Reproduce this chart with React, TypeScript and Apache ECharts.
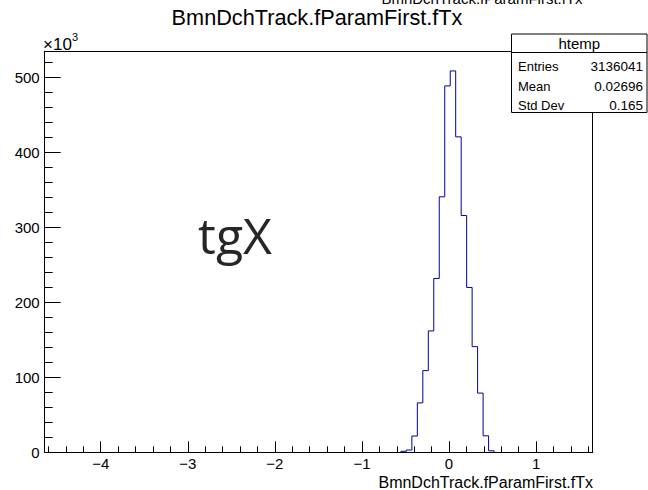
import React, { useEffect, useRef } from "react";
import * as echarts from "echarts";

// Histogram definition (ROOT-style, 100 bins)
const xMin = -4.643;
const xMax = 1.65;
const nBins = 100;
const firstBin = 65;
// bin contents in thousands (×10^3), bins 65..81
const binCounts = [1.3, 3, 21.7, 66, 109, 162, 232, 341, 489, 509, 421, 316, 220, 141, 79, 22, 2];

const yMax = 535.2;
const xMajorTicks = [-4, -3, -2, -1, 0, 1];
const yMajorTicks = [0, 100, 200, 300, 400, 500];

const histTitle = "BmnDchTrack.fParamFirst.fTx";
const xTitle = "BmnDchTrack.fParamFirst.fTx";
const statsName = "htemp";
const statsLabels = ["Entries", "Mean", "Std Dev"];
const statsValues = ["3136041", "0.02696", "0.165"];
const annotation = "tgX";

const FONT = "'Liberation Sans', Arial, Helvetica, sans-serif";

export default function App() {
  const ref = useRef<HTMLDivElement>(null);
  useEffect(() => {
    if (!ref.current) return;
    const chart = echarts.init(ref.current, undefined, { renderer: "svg" });
    const bw = (xMax - xMin) / nBins;
    const edge = (k: number) => xMin + k * bw;
    const pts: number[][] = [[edge(firstBin), 0]];
    binCounts.forEach((c, i) => pts.push([edge(firstBin + i), c]));
    pts.push([edge(firstBin + binCounts.length), 0]);

    const xMinor: number[] = [];
    for (let v = -4.6; v <= 1.61; v += 0.2) xMinor.push(Math.round(v * 10) / 10);
    const yMinor: number[] = [];
    for (let v = 0; v <= 520; v += 20) yMinor.push(v);

    const fmtX = (v: number) => (v < 0 ? "\u2212" + Math.abs(v) : String(v));

    const statsX = 511.5, statsY = 34, statsW = 135.5, statsH = 78.5, headerH = 18.5;
    const rowYs = [66, 86, 105];

    chart.setOption({
      animation: false,
      textStyle: { fontFamily: FONT },
      grid: { left: 44.7, right: 55.3, top: 51.3, bottom: 37.7, outerBoundsMode: "none" },
      xAxis: [
        {
          type: "value", min: xMin, max: xMax, position: "bottom",
          axisLine: { show: true, onZero: false, lineStyle: { color: "#000", width: 1 } },
          axisTick: { show: true, inside: true, length: 11, customValues: xMajorTicks, lineStyle: { color: "#000" } },
          axisLabel: { show: true, customValues: xMajorTicks, formatter: fmtX, color: "#000", fontSize: 15, margin: 4, fontFamily: FONT },
          splitLine: { show: false },
        },
        {
          type: "value", min: xMin, max: xMax, position: "bottom",
          axisLine: { show: false, onZero: false },
          axisTick: { show: true, inside: true, length: 6, customValues: xMinor, lineStyle: { color: "#000" } },
          axisLabel: { show: false },
          splitLine: { show: false },
        },
        {
          type: "value", min: xMin, max: xMax, position: "top",
          axisLine: { show: true, onZero: false, lineStyle: { color: "#000", width: 1 } },
          axisTick: { show: false }, axisLabel: { show: false }, splitLine: { show: false },
        },
      ],
      yAxis: [
        {
          type: "value", min: 0, max: yMax, position: "left",
          axisLine: { show: true, onZero: false, lineStyle: { color: "#000", width: 1 } },
          axisTick: { show: true, inside: true, length: 16, customValues: yMajorTicks, lineStyle: { color: "#000" } },
          axisLabel: { show: true, customValues: yMajorTicks, color: "#000", fontSize: 15, margin: 5, fontFamily: FONT },
          splitLine: { show: false },
        },
        {
          type: "value", min: 0, max: yMax, position: "left",
          axisLine: { show: false, onZero: false },
          axisTick: { show: true, inside: true, length: 8, customValues: yMinor, lineStyle: { color: "#000" } },
          axisLabel: { show: false }, splitLine: { show: false },
        },
        {
          type: "value", min: 0, max: yMax, position: "right",
          axisLine: { show: true, onZero: false, lineStyle: { color: "#000", width: 1 } },
          axisTick: { show: false }, axisLabel: { show: false }, splitLine: { show: false },
        },
      ],
      series: [
        {
          type: "line", xAxisIndex: 0, yAxisIndex: 0, data: pts, step: "end",
          symbol: "none", lineStyle: { color: "#000099", width: 1 }, z: 3,
        },
      ],
      graphic: [
        { type: "text", x: 482, y: 6, style: { text: histTitle, font: `15px ${FONT}`, fill: "#000", textAlign: "center", textVerticalAlign: "bottom" } },
        { type: "text", x: 317, y: 17, style: { text: histTitle, font: `21.7px ${FONT}`, fill: "#000", textAlign: "center", textVerticalAlign: "middle" } },
        { type: "text", x: 593, y: 482, style: { text: xTitle, font: `16px ${FONT}`, fill: "#000", textAlign: "right", textVerticalAlign: "middle" } },
        { type: "text", x: 43, y: 44, style: { text: "\u00d710", font: `17px ${FONT}`, fill: "#000", textAlign: "left", textVerticalAlign: "middle" } },
        { type: "text", x: 72, y: 37, style: { text: "3", font: `11px ${FONT}`, fill: "#000", textAlign: "left", textVerticalAlign: "middle" } },
        { type: "text", x: 235, y: 235, style: { text: annotation, font: `50px 'Open Sans', sans-serif`, fill: "#262626", textAlign: "center", textVerticalAlign: "middle" } },
        { type: "rect", z: 100, shape: { x: statsX, y: statsY, width: statsW, height: statsH }, style: { fill: "#fff", stroke: "#000", lineWidth: 1 } },
        { type: "line", z: 101, shape: { x1: statsX, y1: statsY + headerH, x2: statsX + statsW, y2: statsY + headerH }, style: { stroke: "#000", lineWidth: 1 } },
        { type: "text", z: 101, x: statsX + statsW / 2, y: statsY + headerH / 2 + 0.5, style: { text: statsName, font: `15px ${FONT}`, fill: "#000", textAlign: "center", textVerticalAlign: "middle" } },
        ...statsLabels.map((l, i) => ({ type: "text", z: 101, x: 518, y: rowYs[i], style: { text: l, font: `13px ${FONT}`, fill: "#000", textAlign: "left", textVerticalAlign: "middle" } })),
        ...statsValues.map((v, i) => ({ type: "text", z: 101, x: 643, y: rowYs[i], style: { text: v, font: `13.5px ${FONT}`, fill: "#000", textAlign: "right", textVerticalAlign: "middle" } })),
      ],
    });
    return () => chart.dispose();
  }, []);
  return <div ref={ref} style={{ position: "fixed", left: 0, top: 0, width: 648, height: 490, background: "#fff" }} />;
}
